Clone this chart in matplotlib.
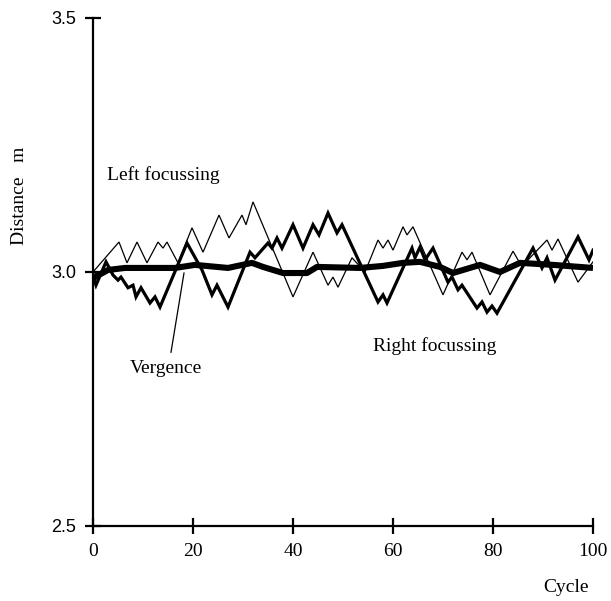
import matplotlib
matplotlib.use("Agg")
import matplotlib.pyplot as plt

# left focussing (thin zigzag)
left_x = [0, 5.2, 6.8, 8.8, 10.8, 13.0, 14.0, 14.8, 17.0, 19.8, 22.0, 25.2, 27.2, 29.8, 30.6, 32.0,
          40.0, 44.0, 47.0, 48.0, 49.0, 51.8, 54.4, 57.0, 58.0, 59.0, 60.0, 62.0, 62.8, 64.0,
          70.0, 73.8, 74.8, 75.8, 79.4, 84.0, 85.8, 87.4, 90.8, 91.8, 93.0, 97.0, 100]
left_y = [3.000, 3.059, 3.018, 3.059, 3.018, 3.059, 3.047, 3.059, 3.018, 3.087, 3.039, 3.112, 3.067,
          3.112, 3.093, 3.138, 2.951, 3.039, 2.974, 2.990, 2.970, 3.028, 3.000, 3.063, 3.047, 3.063,
          3.043, 3.089, 3.073, 3.089, 2.955, 3.039, 3.024, 3.039, 2.955, 3.041, 3.010, 3.028, 3.063,
          3.043, 3.065, 2.980, 3.020]

# right focussing (thick zigzag)
right_x = [0, 0.6, 2.6, 4.0, 5.0, 5.6, 7.0, 8.0, 8.6, 9.6, 11.4, 12.4, 13.4, 18.8, 21.8, 23.8, 24.8,
           27.0, 31.4, 32.4, 35.0, 35.8, 36.8, 37.8, 40.0, 42.0, 44.0, 45.2, 47.0, 48.8, 49.8,
           57.0, 58.0, 58.8, 63.8, 64.4, 65.4, 66.4, 68.0, 71.0, 71.8, 73.0, 73.8, 76.8, 77.8,
           78.8, 79.8, 80.8, 88.0, 89.8, 90.8, 92.4, 97.0, 99.2, 100]
right_y = [2.992, 2.974, 3.020, 2.994, 2.984, 2.990, 2.969, 2.974, 2.951, 2.969, 2.939, 2.951, 2.931,
           3.057, 3.004, 2.955, 2.974, 2.931, 3.039, 3.028, 3.057, 3.047, 3.067, 3.047, 3.093, 3.047,
           3.093, 3.073, 3.116, 3.077, 3.093, 2.941, 2.955, 2.939, 3.047, 3.028, 3.049, 3.024, 3.047,
           2.980, 2.990, 2.965, 2.974, 2.929, 2.941, 2.921, 2.933, 2.919, 3.047, 3.008, 3.028, 2.984,
           3.069, 3.024, 3.043]

# vergence (smooth, heavy)
verg_x = [0, 0.4, 3.0, 6.4, 16.4, 20.4, 27.0, 31.8, 34.0, 38.0, 42.8, 44.8, 53.4, 58.0, 62.0, 65.4,
          69.4, 72.0, 77.4, 81.4, 85.4, 92.0, 100]
verg_y = [2.994, 2.990, 3.004, 3.008, 3.008, 3.014, 3.008, 3.018, 3.010, 2.998, 2.998, 3.010, 3.008,
          3.012, 3.018, 3.020, 3.010, 2.998, 3.014, 3.000, 3.018, 3.014, 3.008]

xticks = [0, 20, 40, 60, 80, 100]
yticks = [2.5, 3.0, 3.5]
ytick_labels = ["2.5", "3.0", "3.5"]

serif = "Liberation Serif"

fig = plt.figure(figsize=(6.11, 6.01), dpi=100)
ax = fig.add_axes([93/611, 1-526/601, 500/611, 508/601])

ax.plot(left_x, left_y, color="black", lw=0.9, solid_joinstyle="miter")
ax.plot(right_x, right_y, color="black", lw=2.3, solid_joinstyle="miter")
ax.plot(verg_x, verg_y, color="black", lw=4.4, solid_capstyle="butt")

ax.set_xlim(0, 100)
ax.set_ylim(2.5, 3.5)
ax.spines["top"].set_visible(False)
ax.spines["right"].set_visible(False)
ax.spines["left"].set_linewidth(1.6)
ax.spines["bottom"].set_linewidth(1.6)

ax.set_xticks(xticks)
ax.set_xticklabels([str(t) for t in xticks], fontfamily=serif, fontsize=14)
ax.set_yticks(yticks)
ax.set_yticklabels(ytick_labels, fontfamily="Liberation Sans", fontsize=13)
ax.tick_params(direction="inout", length=12, width=1.6, pad=6)

ax.set_xlabel("Cycle", fontfamily=serif, fontsize=14)
ax.xaxis.set_label_coords(0.945, -0.105)
ax.set_ylabel("Distance   m", fontfamily=serif, fontsize=14)
ax.yaxis.set_label_coords(-0.13, 0.65)

ax.text(2.8, 3.19, "Left focussing", fontfamily=serif, fontsize=14, va="center")
ax.text(56, 2.855, "Right focussing", fontfamily=serif, fontsize=14, va="center")
ax.text(7.4, 2.81, "Vergence", fontfamily=serif, fontsize=14, va="center")
ax.plot([15.6, 18.2], [2.842, 2.998], color="black", lw=0.9)

fig.savefig("out.png", dpi=100)
